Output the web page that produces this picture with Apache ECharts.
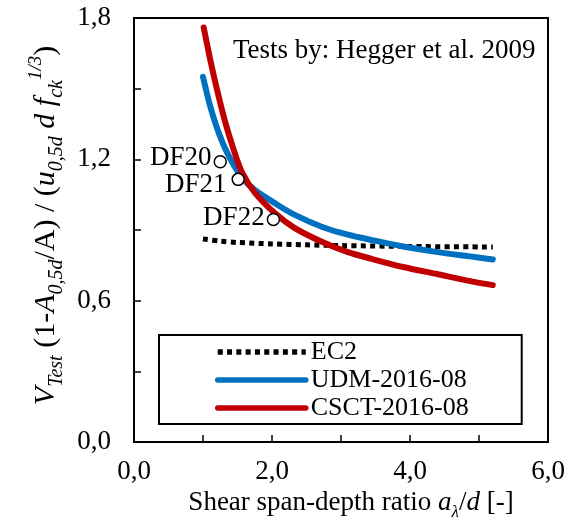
<!DOCTYPE html>
<html>
<head>
<meta charset="utf-8">
<script src="https://cdn.jsdelivr.net/npm/echarts@6/dist/echarts.min.js"></script>
<style>
  html, body { margin: 0; padding: 0; background: #fff; }
  #chart { width: 571px; height: 528px; }
</style>
</head>
<body>
<div id="chart"></div>
<script>
// Normalised shear resistance vs. shear span-depth ratio (Hegger et al. 2009 tests)
const seriesNames = ['EC2', 'UDM-2016-08', 'CSCT-2016-08'];

const ec2X = [1.00, 1.25, 1.50, 2.00, 2.50, 3.00, 4.00, 5.20];
const ec2Y = [0.862, 0.853, 0.847, 0.841, 0.837, 0.834, 0.830, 0.828];

const udmX = [1.00, 1.10, 1.20, 1.30, 1.40, 1.50, 1.60, 1.75, 2.04, 2.33, 2.73, 3.10, 3.45, 3.90, 4.40, 4.87, 5.20];
const udmY = [1.55, 1.43, 1.335, 1.26, 1.20, 1.15, 1.11, 1.07, 1.014, 0.964, 0.913, 0.880, 0.857, 0.830, 0.806, 0.788, 0.775];

const csctX = [1.01, 1.10, 1.20, 1.32, 1.45, 1.565, 1.754, 2.04, 2.33, 2.73, 3.10, 3.45, 3.90, 4.39, 4.87, 5.20];
const csctY = [1.76, 1.63, 1.50, 1.36, 1.236, 1.145, 1.058, 0.972, 0.908, 0.849, 0.806, 0.777, 0.743, 0.713, 0.683, 0.666];

const testNames = ['DF20', 'DF21', 'DF22'];
const testX = [1.25, 1.51, 2.02];
const testY = [1.19, 1.115, 0.945];

const xTicks = { min: 0, max: 6, step: 1 };
const yTicks = { min: 0, max: 1.8, step: 0.3 };

const FONT = '"Liberation Serif", "Times New Roman", serif';
const pairs = (xs, ys) => xs.map((x, i) => [x, ys[i]]);
const comma = v => v.toFixed(1).replace('.', ',');

// label nudges for the test specimens
const testLabelOffsets = [[0, -4], [-3, 6], [0, -1]];

const chart = echarts.init(document.getElementById('chart'), null, { renderer: 'canvas' });

const rich = (size, lh, extra) => Object.assign({ fontFamily: FONT, fontSize: size, lineHeight: lh, color: '#000' }, extra || {});
const xRich = {
  n: rich(27, 36),
  i: rich(27, 36, { fontStyle: 'italic' }),
  s: rich(17, 16, { fontStyle: 'italic', verticalAlign: 'bottom' })
};
const yRich = {
  n: rich(30, 40),
  i: rich(30, 40, { fontStyle: 'italic' }),
  s: rich(20, 18, { fontStyle: 'italic', verticalAlign: 'bottom' }),
  p: rich(19, 18, { fontStyle: 'italic', verticalAlign: 'top' })
};

chart.setOption({
  animation: false,
  backgroundColor: '#fff',
  textStyle: { fontFamily: FONT },
  grid: {
    left: 134, right: 23, top: 18, bottom: 86,
    show: true, borderColor: '#000', borderWidth: 2, backgroundColor: 'transparent'
  },
  graphic: [{
    type: 'text', left: 233, top: 37, z: 10,
    style: { text: 'Tests by: Hegger et al. 2009', font: '27px ' + FONT, fill: '#000' }
  }],
  legend: {
    orient: 'vertical', left: 159, top: 335,
    data: seriesNames,
    borderColor: '#000', borderWidth: 2,
    padding: [4, 53, 3, 56],
    itemWidth: 88, itemHeight: 14, itemGap: 2,
    itemStyle: { opacity: 0 },
    lineStyle: { width: 5.5 },
    textStyle: { fontFamily: FONT, fontSize: 26, color: '#000', lineHeight: 26 },
    backgroundColor: '#fff'
  },
  xAxis: {
    type: 'value', min: xTicks.min, max: xTicks.max, interval: xTicks.step,
    axisLine: { show: true, onZero: false, lineStyle: { color: '#000', width: 2 } },
    axisTick: { show: true, inside: true, length: 7, lineStyle: { color: '#000', width: 1.5 } },
    splitLine: { show: false },
    axisLabel: {
      fontFamily: FONT, fontSize: 27, color: '#000', margin: 16,
      formatter: v => (Math.round(v) % 2 === 0 ? comma(v) : '')
    },
    name: '{n|Shear span-depth ratio }{i|a}{s|λ}{n|/}{i|d}{n| [-]}',
    nameLocation: 'middle', nameGap: 24,
    nameTextStyle: { padding: [0, 0, 0, 20], rich: xRich }
  },
  yAxis: {
    type: 'value', min: yTicks.min, max: yTicks.max, interval: yTicks.step,
    axisLine: { show: true, onZero: false, lineStyle: { color: '#000', width: 2 } },
    axisTick: { show: true, inside: true, length: 7, lineStyle: { color: '#000', width: 1.5 } },
    splitLine: { show: false },
    axisLabel: {
      fontFamily: FONT, fontSize: 27, color: '#000', margin: 23,
      formatter: v => (Math.round(v * 10) % 6 === 0 ? comma(v) : '')
    },
    name: '{i|V}{s|Test}{n| (1-}{i|A}{s|0,5d}{n|/A) / (}{i|u}{s|0,5d}{n| }{i|d f}{s|ck}{p|1/3}{n|)}',
    nameLocation: 'middle', nameRotate: 90, nameGap: 64,
    nameTextStyle: { padding: [0, 0, 0, 9], rich: yRich }
  },
  series: [
    {
      name: 'EC2', type: 'line', data: pairs(ec2X, ec2Y), smooth: 0.3,
      symbol: 'none', z: 3,
      itemStyle: { color: '#000' },
      lineStyle: { color: '#000', width: 5, type: [5, 4.3], cap: 'butt' }
    },
    {
      name: 'UDM-2016-08', type: 'line', data: pairs(udmX, udmY), smooth: 0.3,
      symbol: 'none', z: 4,
      itemStyle: { color: '#0070C0' },
      lineStyle: { color: '#0070C0', width: 6, cap: 'round' }
    },
    {
      name: 'CSCT-2016-08', type: 'line', data: pairs(csctX, csctY), smooth: 0.3,
      symbol: 'none', z: 5,
      itemStyle: { color: '#C00000' },
      lineStyle: { color: '#C00000', width: 6, cap: 'round' }
    },
    {
      name: 'tests', type: 'scatter', z: 6,
      symbol: 'circle', symbolSize: 12,
      itemStyle: { color: '#fff', borderColor: '#000', borderWidth: 1.5, opacity: 1 },
      data: testX.map((x, i) => ({
        value: [x, testY[i]], name: testNames[i],
        label: { offset: testLabelOffsets[i] }
      })),
      label: {
        show: true, position: 'left', distance: 2,
        formatter: p => p.name,
        fontFamily: FONT, fontSize: 27, color: '#000', textBorderWidth: 0
      },
      emphasis: { disabled: true }
    }
  ]
});
</script>
</body>
</html>
